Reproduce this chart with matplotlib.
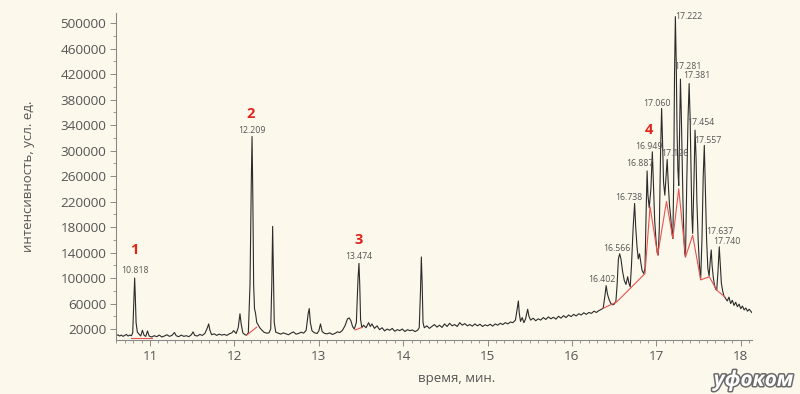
import matplotlib
matplotlib.use("Agg")
import matplotlib.pyplot as plt
import matplotlib.patheffects as pe
from matplotlib.ticker import MultipleLocator

# chromatogram trace (time, min / intensity)
time = [
    10.60, 10.62, 10.64, 10.66, 10.68, 10.70, 10.72, 10.74, 10.76, 10.78,
    10.795, 10.808, 10.818, 10.826, 10.835, 10.85, 10.87, 10.89, 10.91, 10.93,
    10.95, 10.97, 10.99, 11.02, 11.05, 11.08, 11.11, 11.14, 11.17, 11.20,
    11.23, 11.26, 11.29, 11.31, 11.34, 11.37, 11.40, 11.43, 11.46, 11.49,
    11.51, 11.53, 11.56, 11.59, 11.62, 11.65, 11.68, 11.695, 11.71, 11.73,
    11.76, 11.79, 11.82, 11.85, 11.88, 11.91, 11.94, 11.97, 11.99, 12.02,
    12.045, 12.066, 12.08, 12.10, 12.125, 12.145, 12.165, 12.185, 12.200, 12.209,
    12.218, 12.228, 12.238, 12.25, 12.265, 12.28, 12.30, 12.32, 12.35, 12.38,
    12.41, 12.43, 12.443, 12.453, 12.462, 12.472, 12.49, 12.52, 12.55, 12.58,
    12.61, 12.64, 12.67, 12.70, 12.73, 12.76, 12.79, 12.82, 12.85, 12.875,
    12.887, 12.90, 12.92, 12.95, 12.98, 13.00, 13.02, 13.04, 13.07, 13.10,
    13.13, 13.16, 13.19, 13.22, 13.25, 13.28, 13.31, 13.34, 13.36, 13.38,
    13.40, 13.42, 13.445, 13.465, 13.476, 13.485, 13.495, 13.51, 13.53, 13.56,
    13.59, 13.61, 13.63, 13.66, 13.69, 13.72, 13.75, 13.78, 13.81, 13.84,
    13.87, 13.90, 13.93, 13.96, 13.99, 14.02, 14.05, 14.08, 14.11, 14.14,
    14.17, 14.19, 14.205, 14.215, 14.225, 14.235, 14.25, 14.28, 14.31, 14.34,
    14.37, 14.40, 14.43, 14.46, 14.49, 14.52, 14.55, 14.58, 14.61, 14.64,
    14.67, 14.70, 14.73, 14.76, 14.79, 14.82, 14.85, 14.88, 14.91, 14.94,
    14.97, 15.00, 15.03, 15.06, 15.09, 15.12, 15.15, 15.18, 15.21, 15.24,
    15.27, 15.30, 15.33, 15.355, 15.365, 15.375, 15.39, 15.41, 15.43, 15.45,
    15.475, 15.49, 15.51, 15.54, 15.57, 15.60, 15.63, 15.66, 15.69, 15.72,
    15.75, 15.78, 15.81, 15.84, 15.87, 15.90, 15.93, 15.96, 15.99, 16.02,
    16.05, 16.08, 16.11, 16.14, 16.17, 16.20, 16.23, 16.26, 16.29, 16.32,
    16.35, 16.37, 16.39, 16.405, 16.42, 16.44, 16.46, 16.48, 16.50, 16.52,
    16.535, 16.55, 16.565, 16.58, 16.60, 16.62, 16.64, 16.66, 16.675, 16.69,
    16.705, 16.725, 16.742, 16.755, 16.77, 16.785, 16.80, 16.815, 16.83, 16.85,
    16.865, 16.878, 16.89, 16.90, 16.915, 16.935, 16.952, 16.965, 16.98, 16.995,
    17.01, 17.022, 17.035, 17.05, 17.062, 17.072, 17.085, 17.10, 17.115, 17.128,
    17.14, 17.155, 17.17, 17.185, 17.195, 17.205, 17.215, 17.225, 17.235, 17.245,
    17.255, 17.265, 17.275, 17.285, 17.295, 17.305, 17.315, 17.325, 17.335, 17.345,
    17.36, 17.375, 17.388, 17.40, 17.41, 17.42, 17.43, 17.445, 17.458, 17.47,
    17.48, 17.495, 17.51, 17.525, 17.54, 17.555, 17.568, 17.58, 17.595, 17.61,
    17.625, 17.64, 17.65, 17.66, 17.675, 17.69, 17.705, 17.715, 17.73, 17.745,
    17.758, 17.77, 17.785, 17.80, 17.82, 17.84, 17.86, 17.88, 17.90, 17.92,
    17.94, 17.96, 17.98, 18.00, 18.02, 18.04, 18.06, 18.08, 18.10, 18.13,
]
intensity = [
    9500, 11000, 9000, 10500, 8500, 10000, 11500, 9000, 10500, 9500,
    14000, 60000, 100000, 70000, 30000, 15000, 12000, 9000, 18000, 10000,
    8500, 17000, 9000, 7500, 9500, 8000, 10500, 7500, 9000, 11000,
    8500, 10000, 14500, 9500, 8000, 10500, 8500, 9500, 8000, 11000,
    15500, 10000, 9000, 11500, 10000, 13000, 22000, 28000, 18000, 11000,
    12500, 10000, 12000, 10500, 11500, 10000, 12500, 14000, 17500, 13000,
    22000, 44000, 28000, 14000, 11000, 10500, 14000, 90000, 250000, 322000,
    230000, 90000, 52000, 45000, 30000, 27000, 22000, 19000, 15000, 13500,
    14000, 20000, 90000, 181000, 110000, 30000, 15000, 13500, 12000, 14000,
    12500, 11000, 13500, 15500, 12000, 13000, 15000, 13500, 18000, 45000,
    52000, 30000, 17000, 14000, 13000, 17000, 28000, 16000, 13000, 12500,
    14000, 11500, 13000, 15500, 14500, 18000, 25000, 36000, 37500, 33000,
    24000, 20000, 30000, 100000, 123000, 90000, 35000, 22000, 26000, 22000,
    30000, 24000, 28000, 21000, 25000, 19000, 22000, 17000, 20000, 18000,
    21000, 16500, 19000, 17500, 20000, 16000, 19000, 17500, 18500, 16000,
    18000, 22000, 80000, 133000, 90000, 30000, 22000, 25000, 21000, 24000,
    27000, 23000, 26000, 22500, 28000, 24000, 29000, 25000, 27000, 24000,
    30000, 26000, 28500, 25000, 27000, 24500, 28000, 25000, 27500, 24000,
    26500, 25000, 27500, 24500, 28000, 26000, 29000, 27000, 30000, 28000,
    31000, 30000, 34000, 55000, 64000, 45000, 32000, 38000, 30000, 36000,
    51000, 40000, 34000, 37000, 33000, 36000, 34000, 38000, 35000, 39000,
    36000, 38500, 35500, 40000, 37000, 41000, 38000, 42000, 39500, 43000,
    40500, 44000, 42000, 45500, 43000, 46000, 44500, 48000, 46000, 49000,
    51000, 53000, 72000, 88000, 75000, 66000, 60000, 58000, 59000, 63000,
    90000, 130000, 138000, 130000, 110000, 96000, 90000, 102000, 92000, 86000,
    120000, 180000, 217000, 180000, 150000, 130000, 138000, 125000, 112000, 107000,
    115000, 200000, 268000, 230000, 210000, 240000, 298000, 250000, 190000, 160000,
    140000, 136000, 180000, 300000, 366000, 320000, 250000, 230000, 260000, 286000,
    250000, 215000, 195000, 170000, 162000, 250000, 420000, 510000, 440000, 330000,
    270000, 245000, 330000, 412000, 360000, 290000, 220000, 170000, 140000, 133000,
    250000, 350000, 405000, 350000, 270000, 200000, 170000, 250000, 332000, 290000,
    220000, 160000, 120000, 98000, 160000, 260000, 308000, 240000, 160000, 115000,
    103000, 130000, 144000, 120000, 100000, 88000, 82000, 81000, 110000, 149000,
    120000, 92000, 80000, 72000, 68000, 64000, 70000, 60000, 65000, 57000,
    62000, 55000, 59000, 52000, 56000, 50000, 53000, 48000, 51000, 46000,
]

# integration baselines (red)
base1_t = [10.77, 11.02]
base1_v = [6500, 6500]
base2_t = [12.145, 12.265]
base2_v = [10500, 23000]
base3_t = [13.43, 13.51]
base3_v = [18500, 22500]
base4_t = [16.37, 16.53, 16.865, 16.925, 17.015, 17.12, 17.195, 17.265,
           17.345, 17.43, 17.525, 17.627, 17.715, 17.81]
base4_v = [52500, 62500, 107000, 212000, 136000, 220000, 162000, 240000,
           133000, 167000, 97000, 102000, 81000, 70500]

# peak labels: retention time, peak height, label offset (pixels)
peak_t = [10.818, 12.209, 13.474, 16.402, 16.566, 16.738, 16.887, 16.949,
          17.060, 17.126, 17.222, 17.281, 17.381, 17.454, 17.557, 17.637, 17.740]
peak_v = [100000, 322000, 123000, 88000, 138000, 217000, 268000, 298000,
          366000, 286000, 510000, 412000, 405000, 332000, 308000, 144000, 149000]
peak_dx = [0, 0, 0, -4, -3, -5, -7, -3, -4, 8, 14, 8, 8, 6, 4, 10, 8]
peak_dy = [8, 6, 7, 6, 5, 6, 7, 5, 5, 6, 0, 13, 8, 8, 5, 18, 5]

# red group numbers, anchored at a peak
group_names = ['1', '2', '3', '4']
group_t = [10.818, 12.209, 13.474, 16.949]
group_v = [100000, 322000, 123000, 298000]
group_dy = [28, 22, 23, 22]
group_dx = [0, -1, 0, -3]

BG = '#fcf9ec'
GRAY = '#555555'

plt.rcParams['font.family'] = ['Open Sans', 'DejaVu Sans']

fig = plt.figure(figsize=(8, 3.94), dpi=100, facecolor=BG)
ax = fig.add_axes([0.145, 0.137, 0.795, 0.830], facecolor=BG)

ax.plot(time, intensity, color='#2b2b2b', linewidth=0.8)
for bt, bv in [(base1_t, base1_v), (base2_t, base2_v), (base3_t, base3_v), (base4_t, base4_v)]:
    ax.plot(bt, bv, color='#e8534f', linewidth=0.8)

for t, v, dx, dy in zip(peak_t, peak_v, peak_dx, peak_dy):
    ax.annotate(f'{t:.3f}', (t, v), xytext=(dx, dy), textcoords='offset pixels',
                ha='center', va='center', fontsize=6.3, color=GRAY)

for name, t, v, dx, dy in zip(group_names, group_t, group_v, group_dx, group_dy):
    ax.annotate(name, (t, v), xytext=(dx, dy), textcoords='offset pixels',
                ha='center', va='center', fontsize=10.5, fontweight='bold',
                color='#e2231a')

ax.set_xlim(10.597, 18.133)
ax.set_ylim(2745, 515700)

ax.set_xticks([11, 12, 13, 14, 15, 16, 17, 18])
ax.xaxis.set_minor_locator(MultipleLocator(0.1))
ax.set_yticks(list(range(20000, 500001, 40000)))
ax.yaxis.set_minor_locator(MultipleLocator(20000))

for side in ['top', 'right']:
    ax.spines[side].set_visible(False)
for side in ['left', 'bottom']:
    ax.spines[side].set_color('#8a8a8a')
    ax.spines[side].set_linewidth(0.8)

ax.tick_params(which='major', length=4, width=0.7, color='#8a8a8a',
               labelsize=9.7, labelcolor=GRAY, pad=3)
ax.tick_params(which='minor', length=2.5, width=0.6, color='#8a8a8a')

ax.set_xlabel('время, мин.', fontsize=9.5, color=GRAY)
ax.xaxis.label.set_va('center')
ax.xaxis.set_label_coords(0.536, -0.119)
ax.set_ylabel('интенсивность, усл. ед.', fontsize=9.5, color=GRAY, labelpad=18)

# watermark logo
fig.text(0.992, 0.035, 'уфоком', ha='right', va='center', fontsize=15,
         fontweight='bold', style='italic', color='white',
         path_effects=[pe.withStroke(linewidth=2.2, foreground='#6a6a6a')])

fig.savefig('out.png', dpi=100, facecolor=BG)
